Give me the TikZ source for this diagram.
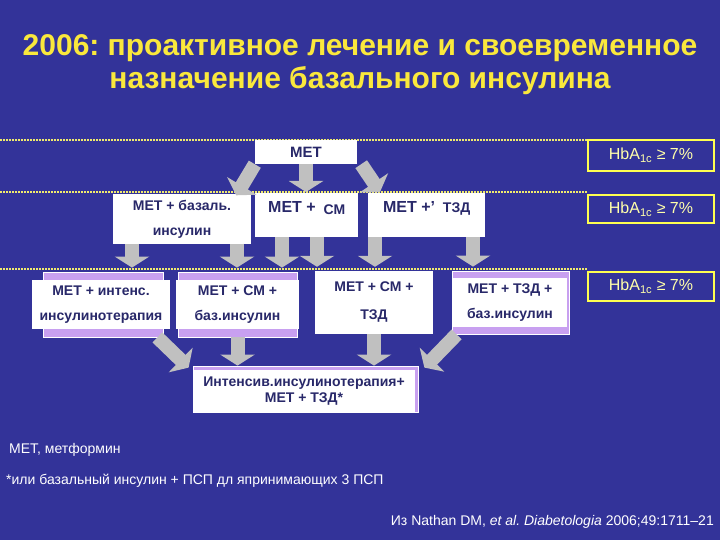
\documentclass[tikz,border=0pt]{standalone}
\usepackage{fontspec}
\setmainfont{Liberation Sans}
\usetikzlibrary{arrows.meta,calc}
\frenchspacing

\definecolor{slidebg}{RGB}{51,51,153}
\definecolor{titleyellow}{RGB}{250,232,60}
\definecolor{dotyellow}{RGB}{240,235,110}
\definecolor{boxtext}{RGB}{40,40,105}
\definecolor{lavender}{RGB}{200,160,240}
\definecolor{arrowgrey}{RGB}{192,192,192}
\definecolor{hbyellow}{RGB}{255,255,80}
\definecolor{hbtext}{RGB}{255,255,170}

\begin{document}
\begin{tikzpicture}[x=1pt,y=-1pt,
                    every node/.style={inner sep=0pt},
                    whitebox/.style={fill=white, text=boxtext, align=center,
                      font=\bfseries\fontsize{14}{25}\selectfont},
                    topbox/.style={whitebox, anchor=north west, inner sep=5pt,
                      text height=14pt, text depth=20pt},
                    lavbox/.style={fill=lavender, draw=white, line width=0.8pt},
                    hbbox/.style={draw=hbyellow, line width=2pt, fill=slidebg, text=hbtext,
                      font=\fontsize{16}{16}\selectfont, minimum width=126pt},
                    sepline/.style={draw=dotyellow, line width=1.5pt, dash pattern=on 1.5pt off 1.5pt},
                    grarrow/.style={draw=arrowgrey, line width=14pt, -{Triangle[width=34pt,length=11pt]}},
                    note/.style={text=white, font=\fontsize{14}{14}\selectfont}
                    ]

                    \useasboundingbox (0,0) rectangle (720,540);
                    \fill[slidebg] (0,0) rectangle (720,540);

                    % title
                    \node[text=titleyellow, align=center, font=\bfseries\fontsize{30}{33}\selectfont]
                      (title) at (360,65) {2006: проактивное лечение и своевременное\\назначение базального инсулина};

                    % HbA1c boxes
                    \node[hbbox, minimum height=31pt] (hb1) at (651,155.5) {HbA\textsubscript{1c} ≥ 7\%};
                    \node[hbbox, minimum height=28pt] (hb2) at (651,209) {HbA\textsubscript{1c} ≥ 7\%};
                    \node[hbbox, minimum height=29pt] (hb3) at (651,286.5) {HbA\textsubscript{1c} ≥ 7\%};

                    \coordinate (l1) at (0,140);
                    \coordinate (l2) at (0,192);
                    \coordinate (l3) at (0,269);
                    \foreach \l in {l1,l2,l3}{
                        \draw[sepline] (\l) -- (\l -| hb1.west);
                    }

                    % step 1
                    \node[whitebox, minimum width=102pt, minimum height=24pt, font=\bfseries\fontsize{15}{15}\selectfont]
                      (met) at (306,152) {МЕТ};

                    % step 2
                    \node[whitebox, minimum width=138pt, minimum height=49pt] (basal) at (182,219) {МЕТ + базаль.\\инсулин};
                    \node[topbox, minimum width=103pt] (sm) at (255,193)
                      {{\fontsize{16}{16}\selectfont МЕТ +}\ \ \raisebox{-2pt}{СМ}};
                    \node[topbox, minimum width=117pt] (tzd) at (368,193)
                      {{\fontsize{16}{16}\selectfont МЕТ +’}\ \ ТЗД};

                    % step 3
                    \node[lavbox, minimum width=120pt, minimum height=65pt] (intensbg) at (103,304.5) {};
                    \node[whitebox, minimum width=138pt, minimum height=49pt] (intens) at (101,304.5) {МЕТ + интенс.\\инсулинотерапия};
                    \node[lavbox, minimum width=119pt, minimum height=65pt] (smbazbg) at (237.5,304.5) {};
                    \node[whitebox, minimum width=123pt, minimum height=49pt] (smbaz) at (237.5,304.5) {МЕТ + СМ +\\баз.инсулин};
                    \node[whitebox, minimum width=118pt, minimum height=63pt, font=\bfseries\fontsize{14}{28}\selectfont]
                      (smtzd) at (374,302.5) {МЕТ + СМ +\\ТЗД};
                    \node[lavbox, minimum width=117pt, minimum height=63pt] (tzdbazbg) at (510.5,302.5) {};
                    \node[whitebox, minimum width=114pt, minimum height=49pt] (tzdbaz) at (510,302.5) {МЕТ + ТЗД +\\баз.инсулин};

                    % step 4
                    \node[lavbox, minimum width=225pt, minimum height=46pt] (finalbg) at (305.5,389) {};
                    \node[whitebox, minimum width=222pt, minimum height=42pt, font=\bfseries\fontsize{14}{16}\selectfont]
                      (final) at (304,391) {Интенсив.инсулинотерапия+\\МЕТ + ТЗД*};

                    % arrows
                    \draw[grarrow] (met.south) -- (met.south |- l2);
                    \draw[grarrow] (met.south west) -- ($(basal.north east)+(-15,1)$);
                    \draw[grarrow] ($(met.south east)+(4,0)$) -- ($(tzd.north west)+(12,-1)$);

                    \foreach \x/\a/\b in {132/basal/intensbg, 237/basal/smbazbg, 282/sm/smbazbg,
                                          317/sm/smtzd, 375/tzd/smtzd, 473/tzd/tzdbazbg}{
                        \draw[grarrow, shorten >=4pt] (\a.south -| \x,0) -- (\b.north -| \x,0);
                    }

                    \draw[grarrow] ($(intensbg.south east)+(-6,0)$) -- ($(finalbg.north west)+(-4,2)$);
                    \draw[grarrow] (smbazbg.south) -- (smbazbg.south |- finalbg.north);
                    \draw[grarrow] (smtzd.south) -- (smtzd.south |- finalbg.north);
                    \draw[grarrow] ($(tzdbazbg.south west)+(5,0)$) -- ($(finalbg.north east)+(6,2)$);

                    % notes
                    \node[note, anchor=west] (abbr) at (9,450) {МЕТ, метформин};
                    \node[note, anchor=west] (foot) at (6,481) {*или базальный инсулин + ПСП дл япринимающих 3 ПСП};
                    \node[note, anchor=east] (src) at (714,522)
                      {Из Nathan DM, \textit{et al.} \textit{Diabetologia} 2006;49:1711–21};

                \end{tikzpicture}
\end{document}
